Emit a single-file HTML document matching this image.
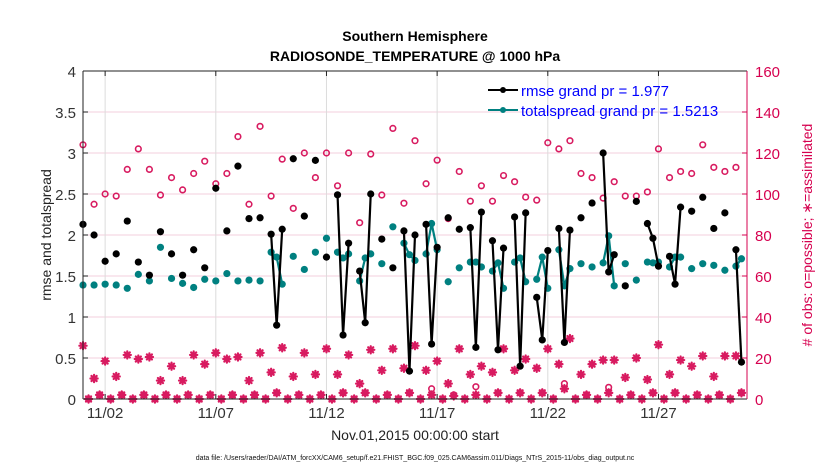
<!DOCTYPE html>
<html><head><meta charset="utf-8"><style>
body{margin:0;background:#fff;}
svg{display:block;font-family:"Liberation Sans",sans-serif;}
</style></head><body>
<svg id="chart" width="830" height="470" viewBox="0 0 830 470" xmlns="http://www.w3.org/2000/svg">
<text x="415" y="41" text-anchor="middle" font-size="14" font-weight="bold">Southern Hemisphere</text>
<text x="415" y="61" text-anchor="middle" font-size="14" font-weight="bold">RADIOSONDE_TEMPERATURE @ 1000 hPa</text>
<g id="grid"></g>
<g id="marks"></g>
<g id="axes"></g>
<text transform="translate(51,235) rotate(-90)" text-anchor="middle" font-size="14" fill="#222">rmse and totalspread</text>
<text transform="translate(812,235) rotate(-90)" text-anchor="middle" font-size="14" fill="#d6004f"># of obs: o=possible; ∗=assimilated</text>
<text x="415" y="440" text-anchor="middle" font-size="14" fill="#222">Nov.01,2015 00:00:00 start</text>
<text x="415" y="460" text-anchor="middle" font-size="7" fill="#111">data file: /Users/raeder/DAI/ATM_forcXX/CAM6_setup/f.e21.FHIST_BGC.f09_025.CAM6assim.011/Diags_NTrS_2015-11/obs_diag_output.nc</text>
<g>
<line x1="488" y1="90" x2="518" y2="90" stroke="#000" stroke-width="2"/>
<circle cx="503" cy="90" r="3" fill="#000"/>
<text x="521" y="96" font-size="15" fill="#0000ff">rmse grand pr = 1.977</text>
<line x1="488" y1="110" x2="518" y2="110" stroke="#008080" stroke-width="2"/>
<circle cx="503" cy="110" r="3" fill="#008080"/>
<text x="521" y="116" font-size="15" fill="#0000ff">totalspread grand pr = 1.5213</text>
</g>
</svg>
<script>
const N = null;
const xTickLabels = ["11/02","11/07","11/12","11/17","11/22","11/27"];
const xTickDays = [1,6,11,16,21,26];
const yTicks = [0,0.5,1,1.5,2,2.5,3,3.5,4];
const y2Ticks = [0,20,40,60,80,100,120,140,160];
const rmse = [2.13,N,2.0,N,1.68,N,1.77,N,2.17,N,1.67,N,1.51,N,2.04,N,1.77,N,1.51,N,
1.82,N,1.60,N,2.57,N,2.05,N,2.84,N,2.2,N,2.21,N,2.01,0.90,2.07,N,2.93,N,
2.23,N,2.91,N,1.73,N,2.49,0.78,1.90,N,1.56,0.93,2.5,N,1.95,N,1.60,N,2.05,0.34,
2.0,N,2.13,0.67,1.85,N,2.21,N,2.07,N,2.09,0.63,2.28,N,1.93,0.60,1.84,N,2.22,0.40,
2.27,N,1.24,0.72,1.81,N,2.08,0.69,2.06,N,2.21,N,2.39,N,3.0,1.55,1.76,N,1.38,N,
2.41,N,2.14,1.96,1.62,N,1.74,1.40,2.34,N,2.29,N,2.46,N,2.08,N,2.27,N,1.82,0.45];
const spread = [1.39,N,1.39,N,1.40,N,1.39,N,1.35,N,1.52,N,1.44,N,1.85,N,1.47,N,1.41,N,
1.36,N,1.46,N,1.44,N,1.53,N,1.44,N,1.45,N,1.44,N,1.79,1.73,1.40,N,1.74,N,
1.58,N,1.79,N,1.96,N,1.79,1.72,1.77,N,1.44,1.72,1.77,N,1.65,N,2.10,N,1.90,1.76,
1.69,N,1.77,2.14,1.82,N,1.43,N,1.60,N,1.67,1.67,1.61,N,1.56,1.66,1.35,N,1.67,1.72,
1.43,N,1.46,1.73,1.35,N,1.82,1.38,1.59,N,1.65,N,1.61,N,1.66,1.99,1.38,N,1.65,N,
1.45,N,1.67,1.66,1.67,N,1.61,1.73,1.73,N,1.59,N,1.65,N,1.63,N,1.57,N,1.62,1.71];
const possible = [124,0,95,2,100,0,99,2,112,0,122,2,112,0,99.5,2,108,0,102,2,
110,0,116,2,105,0,110,2,128,0,95,2,133,0,99,3,117,0,93,2,
120,0,108,2,120,0,104,3,120,0,86,3,119.5,0,99.5,2,132,0,95.5,3,
126,0,105,5,116.5,0,88,2,111,0,96.5,6,104,0,96.5,3,109,0,106,3,
98.5,0,97,3,125,0,122,7.5,126,0,110,2,108,0,98,5.7,106,0,99,2,
99,0,101,3,122,0,108,3,111,0,110,2,124,0,113,2,111,0,113,3];
const assimilated = [26,0,10,2,18.5,0,11,2,21.5,0,19.5,2,20.5,0,9,2,16,0,9,2,
21.5,0,17,2,22.5,0,19.5,2,20.5,0,9,2,22.5,0,13,3,25,0,11,2,
22.5,0,12,2,24.5,0,12,3,21.5,0,7.5,3,24,0,14,2,24.5,0,15,3,
26,0,14,2,18.5,0,7.5,1.5,24.5,0,12,2,16,0,13,3,24.5,0,14,3,
19.5,0,15,3,24.5,0,17,5,29.5,0,12,2,17,0,19,3,19,0,10.5,2,
20,0,9.5,3,26.5,0,12,3,19,0,16,2,21,0,11,2,21,0,21,3];

const L=83,R=747,T=71,B=399;
const xs = i => L + (i/4)*(R-L)/30;
const ys = v => B - v*(B-T)/4;
const y2 = v => B - v*(B-T)/160;
const NS="http://www.w3.org/2000/svg";
function mk(tag, attrs, parent){const e=document.createElementNS(NS,tag);for(const k in attrs)e.setAttribute(k,attrs[k]);parent.appendChild(e);return e;}
const grid=document.getElementById('grid'), marks=document.getElementById('marks'), axes=document.getElementById('axes');
mk('rect',{x:L,y:T,width:R-L,height:B-T,fill:'#fff'},grid);
yTicks.forEach(v=>{
  const g=mk('line',{x1:L,x2:R,y1:ys(v),y2:ys(v),stroke:'#f3cfdc','stroke-width':1},grid);
  
  
  const t=mk('text',{x:L-7,y:ys(v)+6,'text-anchor':'end','font-size':15,fill:'#333'},axes);
  t.textContent=String(v);
  
  
  mk('line',{x1:L,x2:L+5,y1:ys(v),y2:ys(v),stroke:'#222'},axes);
});
xTickDays.forEach((d,k)=>{
  const x=xs(d*4);
  const g=mk('line',{x1:x,x2:x,y1:T,y2:B,stroke:'#dcdcdc','stroke-width':1},grid);
  
  
  mk('line',{x1:x,x2:x,y1:B,y2:B-5,stroke:'#222'},axes);
  mk('line',{x1:x,x2:x,y1:T,y2:T+5,stroke:'#222'},axes);
  const t=mk('text',{x:x,y:B+19,'text-anchor':'middle','font-size':15,fill:'#333'},axes);
  t.textContent=xTickLabels[k];
  
  
});
y2Ticks.forEach(v=>{
  mk('line',{x1:R,x2:R-5,y1:y2(v),y2:y2(v),stroke:'#d6004f'},axes);
  const t=mk('text',{x:R+8,y:y2(v)+6,'font-size':15,fill:'#d6004f'},axes);
  t.textContent=String(v);
  
  
});
mk('line',{x1:L,x2:R,y1:T,y2:T,stroke:'#222'},axes);
mk('line',{x1:L,x2:R,y1:B,y2:B,stroke:'#222'},axes);
mk('line',{x1:L,x2:L,y1:T,y2:B,stroke:'#222'},axes);
mk('line',{x1:R,x2:R,y1:T,y2:B,stroke:'#d6004f'},axes);

const RED='#d81b60';
// asterisks (assimilated)
assimilated.forEach((v,i)=>{
  if(v===null)return;
  const cx=xs(i),cy=y2(v);
  const g=mk('g',{stroke:RED,'stroke-width':2.2,'stroke-linecap':'round'},marks);
  
  
  for(let a=0;a<4;a++){const ang=a*Math.PI/4,dx=3.6*Math.cos(ang),dy=3.6*Math.sin(ang);
    mk('line',{x1:cx-dx,y1:cy-dy,x2:cx+dx,y2:cy+dy},g);}
});
// circles (possible)
possible.forEach((v,i)=>{
  if(v===null)return;
  const c=mk('circle',{cx:xs(i),cy:y2(v),r:2.8,fill:'none',stroke:RED,'stroke-width':1.6},marks);
  
  
});
function series(arr,color,name){
  let seg=[];
  const segs=[];
  arr.forEach((v,i)=>{ if(v===null){ if(seg.length)segs.push(seg); seg=[]; } else seg.push([xs(i),ys(v)]); });
  if(seg.length)segs.push(seg);
  segs.forEach(s=>{ if(s.length>1){
    const p=mk('polyline',{points:s.map(q=>q.join(',')).join(' '),fill:'none',stroke:color,'stroke-width':2.2,'stroke-linejoin':'round'},marks);
    
    
  }});
  arr.forEach((v,i)=>{ if(v===null)return;
    const c=mk('circle',{cx:xs(i),cy:ys(v),r:3.6,fill:color},marks);
    
    
  });
}
series(spread,'#008080','totalspread');
series(rmse,'#000000','rmse');
</script>
</body></html>
